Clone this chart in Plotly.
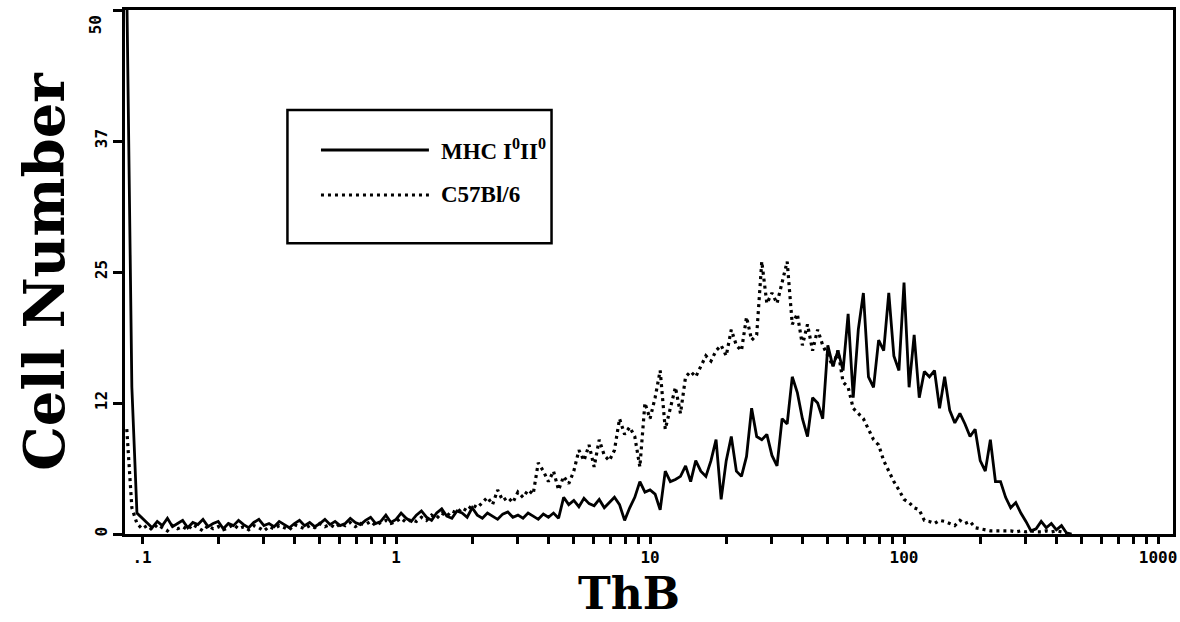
import numpy as np
import plotly.graph_objects as go

# Histogram channel grid (log10 of ThB intensity), 0.02-decade bins starting at log10 = -1.06
bin_start_log = -1.06
bin_step_log = 0.02

# Cell counts per channel, MHC I0II0 (solid line)
mhc_counts = [
    52, 14, 2.0, 1.5, 1.0, 0.6, 1.2, 0.8, 1.5, 0.7,
    1.0, 1.3, 0.6, 1.1, 0.9, 1.4, 0.7, 1.0, 1.2, 0.5,
    1.0, 0.8, 1.3, 0.9, 0.6, 1.1, 1.4, 0.8, 1.0, 0.7,
    1.2, 0.9, 0.6, 1.0, 1.3, 0.8, 1.1, 0.7, 1.0, 1.4,
    0.9, 1.2, 0.8, 1.0, 1.5, 1.1, 0.9, 1.3, 1.6, 1.0,
    1.2, 1.8, 1.1, 1.4, 2.0, 1.5, 1.2, 1.8, 2.2, 1.6,
    1.3, 2.0, 2.4, 1.7, 1.5, 2.2, 2.0, 1.6, 2.5, 1.8,
    1.5, 2.0, 1.7, 1.4, 1.9, 2.1, 1.6, 1.8, 1.5, 2.0,
    1.7, 1.4, 1.9, 1.6, 2.0, 1.5, 3.5, 2.8, 3.2, 2.6,
    3.4, 2.9, 2.7, 3.3, 2.5, 3.0, 3.5, 2.8, 1.3, 2.5,
    3.5, 5.0, 4.0, 4.2, 3.8, 2.3, 6.0, 5.0, 5.2, 5.5,
    6.5, 5.0, 7.0, 6.0, 5.5, 7.0, 9.0, 3.3, 7.0, 9.3,
    6.0, 5.5, 7.4, 12.0, 9.3, 9.0, 9.5, 7.5, 6.5, 11.0,
    10.5, 15.0, 13.5, 11.0, 9.3, 13.0, 12.5, 11.0, 18.0, 16.0,
    17.5, 15.6, 21.0, 13.0, 19.5, 23.0, 15.0, 14.0, 18.5, 17.5,
    23.0, 17.0, 15.6, 24.0, 14.0, 19.0, 13.0, 15.5, 15.0, 15.6,
    12.0, 15.0, 11.8, 10.6, 11.5, 10.5, 9.3, 10.0, 7.0, 6.0,
    9.0, 5.0, 5.0, 3.5, 2.5, 3.0, 2.0, 1.2, 0.3, 0.5,
    1.2, 0.6, 1.0, 0.4, 0.8, 0.1, 0,
]

# Cell counts per channel, C57Bl/6 (dotted line)
c57_counts = [
    10, 2.5, 1.0, 0.5, 0.8, 0.4, 0.9, 0.6, 0.3, 0.8,
    0.5, 0.7, 0.4, 0.9, 0.6, 0.3, 0.8, 0.5, 0.7, 0.4,
    0.6, 0.9, 0.5, 0.7, 0.4, 0.8, 0.6, 0.3, 0.7, 0.5,
    0.8, 0.6, 0.4, 0.9, 0.7, 0.5, 0.8, 0.6, 1.0, 0.7,
    0.9, 0.6, 1.0, 0.8, 1.1, 0.7, 1.0, 0.9, 1.2, 0.8,
    1.1, 1.3, 1.0, 1.2, 1.5, 1.1, 1.4, 1.2, 1.6, 1.3,
    1.8, 1.5, 2.0, 1.7, 2.2, 2.0, 2.5, 2.2, 2.8, 2.5,
    3.0, 3.5, 2.8, 4.2, 3.2, 3.5, 3.0, 4.0, 3.5, 4.2,
    3.8, 6.8, 6.0, 5.0, 6.0, 4.2, 5.5, 4.8, 6.0, 8.0,
    7.0, 8.5, 6.4, 9.0, 7.5, 7.0, 8.0, 11.0, 9.5, 10.2,
    9.3, 6.4, 12.5, 11.0, 13.0, 15.6, 10.0, 12.0, 14.0, 11.5,
    15.0, 15.5, 15.0, 16.0, 17.0, 16.5, 17.5, 18.0, 17.0, 19.5,
    18.0, 17.5, 20.7, 18.5, 19.0, 26.0, 22.0, 23.0, 22.0, 24.0,
    26.0, 20.0, 21.0, 18.0, 20.0, 17.5, 19.5, 18.0, 17.0, 16.0,
    17.5, 14.5, 14.0, 12.0, 11.5, 11.0, 10.0, 9.0, 8.5, 7.0,
    6.0, 5.0, 4.2, 3.3, 3.0, 2.5, 2.3, 1.3, 1.2, 1.0,
    1.3, 1.2, 1.0, 0.8, 1.3, 1.0, 1.2, 0.6, 0.5, 0.4,
    0.3, 0.3, 0.3, 0.3, 0.3, 0.2, 0.3, 0.2, 0.3, 0.2,
    0.2, 0.3, 0.2, 0.3, 0.2, 0,
]

series_names = ["MHC I<sup>0</sup>II<sup>0</sup>", "C57Bl/6"]

x_tick_labels = [".1", "1", "10", "100", "1000"]
x_decades = [0.1, 1, 10, 100, 1000]
y_tick_values = [0, 12.5, 25, 37.5, 50]
y_tick_labels = ["0", "12", "25", "37", "50"]


def channel_x(n):
    return 10 ** (bin_start_log + bin_step_log * np.arange(n))


x_minor_vals = [m * d for d in x_decades[:-1] for m in range(2, 10)]

fig = go.Figure()
fig.add_trace(go.Scatter(
    x=channel_x(len(mhc_counts)), y=mhc_counts, mode="lines",
    name=series_names[0], line=dict(color="black", width=2.8),
))
fig.add_trace(go.Scatter(
    x=channel_x(len(c57_counts)), y=c57_counts, mode="lines",
    name=series_names[1], line=dict(color="black", width=3.2, dash="3px,4px"),
))

tick_font = dict(family="DejaVu Sans Mono", size=16, color="black", weight="bold")

fig.update_xaxes(
    type="log", range=[-1.067, 3.059],
    tickvals=x_decades, ticktext=x_tick_labels,
    ticks="outside", ticklen=7, tickwidth=2.5, tickcolor="black",
    minor=dict(tickvals=x_minor_vals, ticks="outside", ticklen=7, tickwidth=2.5,
               tickcolor="black", showgrid=False),
    showline=True, linecolor="black", linewidth=3, mirror=True,
    showgrid=False, zeroline=False, tickfont=tick_font,
    ticklabeloverflow="allow",
)
# the top tick label ("50") is drawn just below its tick, as in the original
fig.update_yaxes(
    range=[0, 50], tickvals=y_tick_values[:-1], ticktext=y_tick_labels[:-1],
    ticks="outside", ticklen=9, tickwidth=2.5, tickcolor="black",
    minor=dict(tickvals=y_tick_values[-1:], ticks="outside", ticklen=9, tickwidth=2.5,
               tickcolor="black", showgrid=False),
    tickangle=-90,
    showline=True, linecolor="black", linewidth=3, mirror=True,
    showgrid=False, zeroline=False, tickfont=tick_font,
    ticklabeloverflow="allow",
    title=dict(text="Cell Number", font=dict(family="DejaVu Serif", size=56, color="black", weight="bold"), standoff=9),
    automargin=False,
)

# Legend box drawn inside the plot
shapes = [
    dict(type="rect", xref="paper", yref="paper", x0=0.155, x1=0.407, y0=0.555, y1=0.809,
         line=dict(color="black", width=2.5), fillcolor="white", layer="above"),
    dict(type="line", xref="paper", yref="paper", x0=0.187, x1=0.290, y0=0.733, y1=0.733,
         line=dict(color="black", width=3), layer="above"),
    dict(type="line", xref="paper", yref="paper", x0=0.187, x1=0.290, y0=0.647, y1=0.647,
         line=dict(color="black", width=3, dash="3px,4px"), layer="above"),
]
annotations = [
    dict(text="<b>" + series_names[0] + "</b>", xref="paper", yref="paper", x=0.300, y=0.733,
         xanchor="left", yanchor="middle", showarrow=False,
         font=dict(family="Liberation Serif", size=23, color="black")),
    dict(text="<b>" + series_names[1] + "</b>", xref="paper", yref="paper", x=0.300, y=0.647,
         xanchor="left", yanchor="middle", showarrow=False,
         font=dict(family="Liberation Serif", size=23, color="black")),
    dict(text="<b>ThB</b>", xref="paper", yref="paper", x=0.481, y=-0.166,
         xanchor="center", yanchor="bottom", showarrow=False,
         font=dict(family="DejaVu Serif", size=44, color="black")),
    dict(text=y_tick_labels[-1], xref="paper", yref="y", x=-0.017, y=y_tick_values[-1] - 1.4,
         xanchor="right", yanchor="middle", textangle=-90, showarrow=False,
         font=tick_font),
]

fig.update_layout(
    width=1180, height=622,
    margin=dict(l=125, r=3, t=10, b=88),
    plot_bgcolor="white", paper_bgcolor="white",
    showlegend=False, shapes=shapes, annotations=annotations,
)

fig.write_html(
    "out.html",
    config={"displayModeBar": False},
    post_script="document.body.style.margin='0';document.body.style.overflow='hidden';",
)
